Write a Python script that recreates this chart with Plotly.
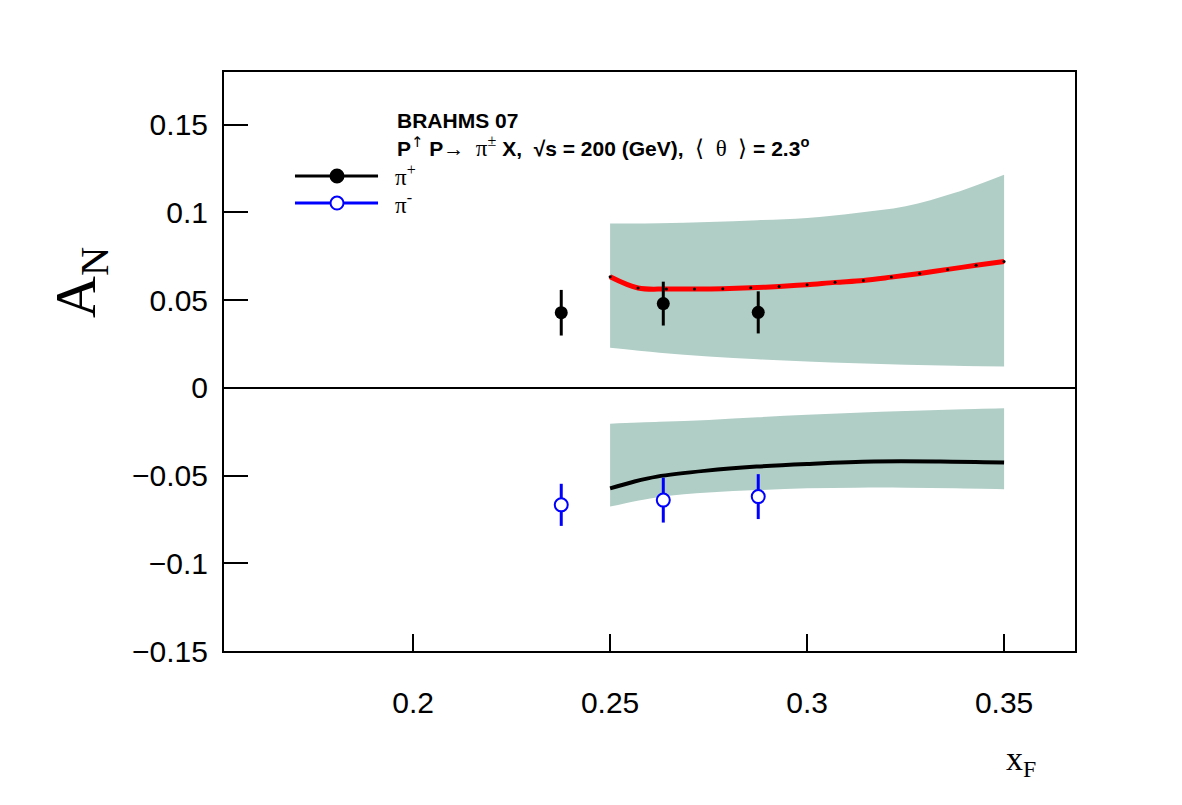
import plotly.graph_objects as go

# ---- data ----
xf_pts = [0.2376, 0.2635, 0.2876]
an_pip = [0.0428, 0.0480, 0.0430]
err_pip = [0.0130, 0.0125, 0.0120]
an_pim = [-0.0667, -0.0640, -0.0620]
err_pim = [0.0120, 0.0128, 0.0128]

red_x = [0.2500, 0.2571, 0.2643, 0.2714, 0.2786, 0.2857, 0.2929, 0.3000,
         0.3071, 0.3143, 0.3214, 0.3286, 0.3357, 0.3429, 0.3500]
red_y = [0.0633, 0.0569, 0.0563, 0.0563, 0.0565, 0.0570, 0.0578, 0.0588,
         0.0601, 0.0612, 0.0631, 0.0652, 0.0675, 0.0698, 0.0720]

blk_x = [0.2500, 0.2560, 0.2619, 0.2745, 0.2872, 0.3000, 0.3169, 0.3338, 0.3500]
blk_y = [-0.0573, -0.0535, -0.0506, -0.0472, -0.0449, -0.0434, -0.0420, -0.0420, -0.0426]

band_x = [0.25, 0.2625, 0.275, 0.2875, 0.30, 0.3125, 0.325, 0.3375, 0.35]
band_pip_hi = [0.0936, 0.0938, 0.0945, 0.0955, 0.0968, 0.0997, 0.1035, 0.1112, 0.1215]
band_pip_lo = [0.0228, 0.0200, 0.0179, 0.0163, 0.0150, 0.0140, 0.0131, 0.0126, 0.0122]
band_pim_hi = [-0.0205, -0.0194, -0.0183, -0.0168, -0.0154, -0.0142, -0.0132, -0.0123, -0.0116]
band_pim_lo = [-0.0677, -0.0622, -0.0597, -0.0583, -0.0573, -0.0569, -0.0569, -0.0573, -0.0578]

x_ticks = [0.2, 0.25, 0.3, 0.35]
x_ticktext = ["0.2", "0.25", "0.3", "0.35"]
y_ticks = [-0.15, -0.1, -0.05, 0, 0.05, 0.1, 0.15]
y_ticktext = ["\u22120.15", "\u22120.1", "\u22120.05", "0", "0.05", "0.1", "0.15"]

band_color = "rgb(176,206,198)"

fig = go.Figure()

# bands
for lo, hi in [(band_pip_lo, band_pip_hi), (band_pim_lo, band_pim_hi)]:
    fig.add_trace(go.Scatter(x=band_x, y=lo, mode="lines",
                             line=dict(width=0, color=band_color, shape="spline"),
                             showlegend=False, hoverinfo="skip"))
    fig.add_trace(go.Scatter(x=band_x, y=hi, mode="lines",
                             line=dict(width=0, color=band_color, shape="spline"),
                             fill="tonexty", fillcolor=band_color, showlegend=False, hoverinfo="skip"))

# theory curves
fig.add_trace(go.Scatter(x=red_x, y=red_y, mode="lines+markers",
                         line=dict(color="red", width=5, shape="spline"),
                         marker=dict(color="black", size=3), showlegend=False))
fig.add_trace(go.Scatter(x=blk_x, y=blk_y, mode="lines",
                         line=dict(color="black", width=4, shape="spline"),
                         showlegend=False))

# data
fig.add_trace(go.Scatter(x=xf_pts, y=an_pip, mode="markers",
                         marker=dict(color="black", size=13, symbol="circle"),
                         error_y=dict(type="data", array=err_pip, color="black", thickness=3, width=0),
                         showlegend=False))
fig.add_trace(go.Scatter(x=xf_pts, y=an_pim, mode="markers",
                         marker=dict(color="white", size=13, symbol="circle", line=dict(color="blue", width=2)),
                         error_y=dict(type="data", array=err_pim, color="blue", thickness=3, width=0),
                         showlegend=False))

# legend drawn manually
shapes = []
legend_rows = [(0.8204, "black", "black"), (0.7737, "blue", "white")]
for yy, col, fillc in legend_rows:
    shapes.append(dict(type="line", xref="paper", yref="paper", x0=0.0834, x1=0.181, y0=yy, y1=yy,
                       line=dict(color=col, width=3)))
    shapes.append(dict(type="circle", xref="paper", yref="paper",
                       x0=0.1328 - 6.5 / 851, x1=0.1328 + 6.5 / 851, y0=yy - 6.5 / 579, y1=yy + 6.5 / 579,
                       fillcolor=fillc, line=dict(color=col, width=2)))

serif = "Liberation Serif"
annotations = [
    dict(text="\u03c0<sup>+</sup>", x=0.199, y=0.8204, xref="paper", yref="paper", xanchor="left", yanchor="middle",
         showarrow=False, font=dict(family=serif, size=23, color="black")),
    dict(text="\u03c0<sup>-</sup>", x=0.199, y=0.7737, xref="paper", yref="paper", xanchor="left", yanchor="middle",
         showarrow=False, font=dict(family=serif, size=23, color="black")),
    dict(text="<b>BRAHMS 07</b>", x=0.2015, y=0.917, xref="paper", yref="paper", xanchor="left", yanchor="middle",
         showarrow=False, font=dict(family="Liberation Sans", size=21, color="black")),
    dict(text="<b>P</b><sup><span style='font-family:DejaVu Sans'>\u2191</span></sup>\u00a0<b>P\u2192</b>\u00a0\u00a0"
              "<span style='font-family:Liberation Serif;font-size:23px'>\u03c0<sup>\u00b1</sup></span>"
              "\u00a0<b>X,\u00a0\u00a0\u221as = 200 (GeV),</b>\u00a0\u00a0"
              "<span style='font-family:Liberation Serif;font-size:23px'>\u27e8\u00a0\u00a0\u03b8\u00a0\u00a0\u27e9</span>"
              "<b>\u00a0= 2.3<sup>o</sup></b>",
         x=0.2015, y=0.872, xref="paper", yref="paper", xanchor="left", yanchor="middle",
         showarrow=False, font=dict(family="Liberation Sans", size=21, color="black")),
    dict(text="A<sub>N</sub>", x=-0.169, y=0.636, xref="paper", yref="paper", xanchor="center", yanchor="middle",
         textangle=-90, showarrow=False, font=dict(family=serif, size=58, color="black")),
    dict(text="x<sub>F</sub>", x=0.916, y=-0.19, xref="paper", yref="paper", xanchor="left", yanchor="middle",
         showarrow=False, font=dict(family=serif, size=34, color="black")),
]

fig.update_layout(
    width=1182, height=805,
    margin=dict(l=224, r=107, t=72, b=154),
    paper_bgcolor="white", plot_bgcolor="white",
    shapes=shapes, annotations=annotations,
    showlegend=False,
)
fig.update_xaxes(range=[0.152, 0.368], tickvals=x_ticks, ticktext=x_ticktext,
                 ticks="inside", ticklen=17, tickwidth=2, tickcolor="black",
                 showline=True, linecolor="black", linewidth=2, mirror=True,
                 showgrid=False, zeroline=False, ticklabelstandoff=24,
                 tickfont=dict(family="Liberation Sans", size=30, color="black"))
fig.update_yaxes(range=[-0.15, 0.18], tickvals=y_ticks, ticktext=y_ticktext,
                 ticks="inside", ticklen=24, tickwidth=2, tickcolor="black",
                 showline=True, linecolor="black", linewidth=2, mirror=True,
                 showgrid=False, zeroline=True, zerolinecolor="black", zerolinewidth=1.5,
                 ticklabelstandoff=8,
                 tickfont=dict(family="Liberation Sans", size=30, color="black"))

fig.write_html("out.html")
